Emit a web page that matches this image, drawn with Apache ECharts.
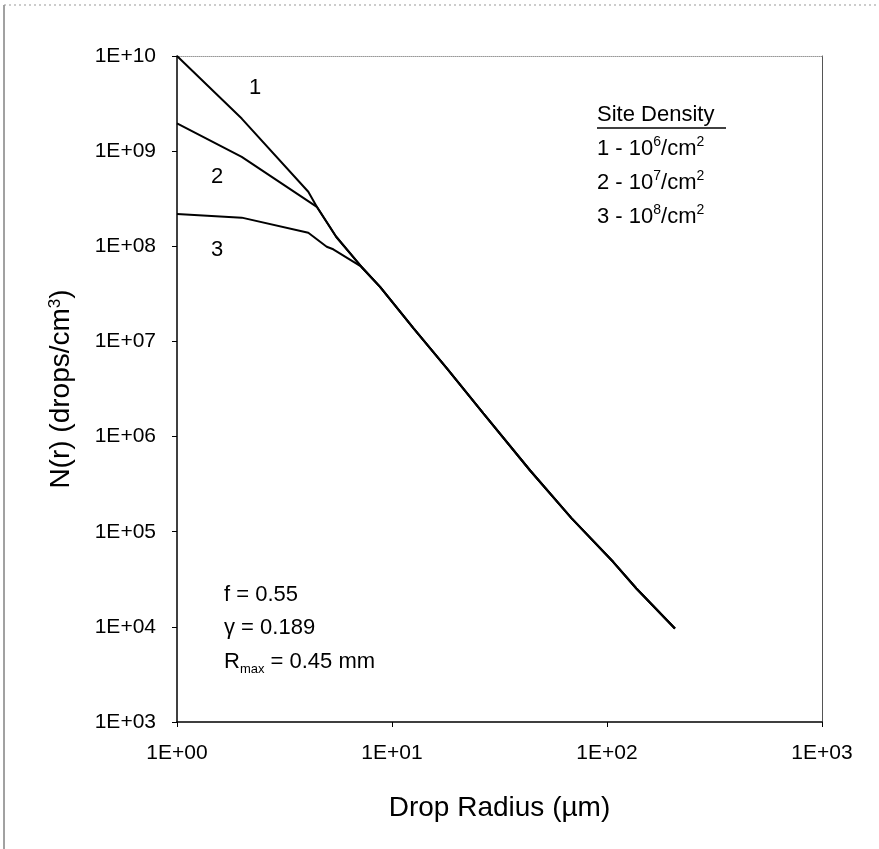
<!DOCTYPE html>
<html>
<head>
  <meta charset="utf-8">
</head>
<body style="margin: 0; background: #fff">
  <div id="container" style="width: 879px; height: 849px"></div>
  <script src="https://fastly.jsdelivr.net/npm/echarts@6/dist/echarts.min.js"></script>
  <script>
    // drop radius (um) and N(r) (drops/cm3)
    var head1R = [1, 2, 4.08, 4.47];
    var head1N = [1e10, 2.2e9, 3.74e8, 2.6e8];
    var head2R = [1, 2, 4.47];
    var head2N = [1.96e9, 8.7e8, 2.6e8];
    var head3R = [1, 2, 4.08, 4.97, 5.33];
    var head3N = [2.18e8, 2.0e8, 1.39e8, 9.9e7, 9.3e7];
    // all three curves share this tail
    var tailR = [5.5, 7.2, 8.8, 12.6, 18, 26.6, 43.9, 68.5, 107, 137, 207];
    var tailN = [1.26e8, 6.1e7, 3.75e7, 1.37e7, 5.2e6, 1.75e6, 4.4e5, 1.38e5, 4.8e4, 2.53e4, 9.6e3];
    var curveNames = ['1', '2', '3'];

    function pairs(r, n) {
      var out = [];
      for (var i = 0; i < r.length; i++) out.push([r[i], n[i]]);
      return out;
    }
    var curves = [
      pairs(head1R.concat(tailR), head1N.concat(tailN)),
      pairs(head2R.concat(tailR), head2N.concat(tailN)),
      pairs(head3R.concat(tailR.slice(1)), head3N.concat(tailN.slice(1)))
    ];

    function sciLabel(v) {
      var e = Math.round(Math.log10(v));
      return '1E+' + (e < 10 ? '0' : '') + e;
    }

    var font = '"Liberation Sans", Arial, sans-serif';
    var supStyle = { fontSize: 14, lineHeight: 12, verticalAlign: 'top', fontFamily: font, fill: '#000' };
    var subStyle = { fontSize: 13, lineHeight: 12, verticalAlign: 'bottom', fontFamily: font, fill: '#000' };

    function txt(x, y, text, rich) {
      return {
        type: 'text', x: x, y: y,
        style: {
          text: text, fontSize: 22, fontFamily: font, fill: '#000',
          lineHeight: 28, verticalAlign: 'middle', rich: rich || {}
        }
      };
    }

    var chart = echarts.init(document.getElementById('container'), null, { renderer: 'canvas' });

    var axisCommon = {
      type: 'log',
      logBase: 10,
      axisLine: { lineStyle: { color: '#000', width: 1.5 } },
      axisTick: { length: 5, lineStyle: { color: '#000' } },
      splitLine: { show: false },
      minorTick: { show: false },
      axisLabel: { color: '#000', fontSize: 21, fontFamily: font, formatter: sciLabel }
    };

    var option = {
      animation: false,
      backgroundColor: '#fff',
      grid: { left: 177, right: 57, top: 56, bottom: 127 },
      xAxis: [
        Object.assign({}, axisCommon, {
          min: 1, max: 1000, splitNumber: 3,
          axisLabel: Object.assign({}, axisCommon.axisLabel, { margin: 21 }),
          name: 'Drop Radius (\u00b5m)',
          nameLocation: 'middle', nameGap: 72,
          nameTextStyle: { color: '#000', fontSize: 28, fontFamily: font }
        }),
        {
          type: 'log', position: 'top', min: 1, max: 1000,
          axisLine: { lineStyle: { color: '#999', type: 'dotted' } },
          axisTick: { show: false }, axisLabel: { show: false }, splitLine: { show: false }
        }
      ],
      yAxis: [
        Object.assign({}, axisCommon, {
          min: 1e3, max: 1e10, splitNumber: 7,
          axisLabel: Object.assign({}, axisCommon.axisLabel, { margin: 21 }),
          name: 'N(r) (drops/cm{sup|3})',
          nameLocation: 'middle', nameGap: 102,
          nameTextStyle: {
            color: '#000', fontSize: 28, fontFamily: font,
            rich: { sup: { fontSize: 17, lineHeight: 14, verticalAlign: 'top', color: '#000', fontFamily: font } }
          }
        }),
        {
          type: 'log', position: 'right', min: 1e3, max: 1e10,
          axisLine: { lineStyle: { color: '#555' } },
          axisTick: { show: false }, axisLabel: { show: false }, splitLine: { show: false }
        }
      ],
      series: curves.map(function (d, i) {
        return {
          name: curveNames[i],
          type: 'line',
          data: d,
          symbol: 'none',
          lineStyle: { color: '#000', width: 2 }
        };
      }),
      graphic: [
        // outer frame fragments of the scanned page
        { type: 'line', shape: { x1: 4, y1: 5, x2: 4, y2: 849 }, style: { stroke: '#444', lineWidth: 1 } },
        { type: 'line', shape: { x1: 4, y1: 5, x2: 879, y2: 5 }, style: { stroke: '#999', lineWidth: 1, lineDash: [2, 3] } },
        // curve numbers
        txt(249, 88, '1'),
        txt(211, 177, '2'),
        txt(211, 250, '3'),
        // legend
        txt(597, 115, 'Site Density'),
        { type: 'line', shape: { x1: 597, y1: 128, x2: 726, y2: 128 }, style: { stroke: '#000', lineWidth: 1.5 } },
        txt(597, 149, '1 - 10{sup|6}/cm{sup|2}', { sup: supStyle }),
        txt(597, 183, '2 - 10{sup|7}/cm{sup|2}', { sup: supStyle }),
        txt(597, 217, '3 - 10{sup|8}/cm{sup|2}', { sup: supStyle }),
        // parameters
        txt(224, 595, 'f = 0.55'),
        txt(224, 628, '\u03b3 = 0.189'),
        txt(224, 662, 'R{sub|max} = 0.45 mm', { sub: subStyle })
      ]
    };

    chart.setOption(option);
  </script>
</body>
</html>
